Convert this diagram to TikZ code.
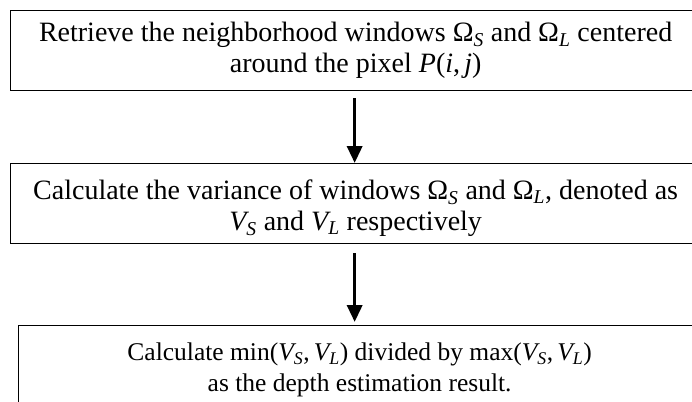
\documentclass[tikz,border=0pt]{standalone}
\usepackage{fontspec}
\setmainfont{Liberation Serif}
\usetikzlibrary{arrows.meta}
\newcommand\Om[1]{\mbox{Ω}_{\mathit{#1}}}
\newcommand\Vv[1]{\mathit{V}_{\mathit{#1}}}
\begin{document}
\begin{tikzpicture}[x=1pt,y=-1pt,
  stepbox/.style={draw, line width=1.3pt, anchor=north west, align=center,
    inner sep=0pt, font=\fontsize{28}{31}\selectfont},
  flow/.style={line width=3.5pt, -{Triangle[width=15pt,length=17pt]}}]
\useasboundingbox (0,0) rectangle (692,401);
\node[stepbox, minimum width=690pt, minimum height=80pt] (b1) at (10,10)
  {Retrieve the neighborhood windows $\Om{S}$ and $\Om{L}$ centered\\
   around the pixel $\mathit{P}\mbox{(}\mathit{i}\mbox{,}\,\mathit{j}\mbox{)}$};
\node[stepbox, minimum width=690pt, minimum height=80pt] (b2) at (10,163)
  {\rule{0pt}{29pt}Calculate the variance of windows $\Om{S}$ and $\Om{L}$, denoted as\\
   $\Vv{S}$ and $\Vv{L}$ respectively};
\node[stepbox, minimum width=682pt, minimum height=88pt,
  font=\fontsize{25.5}{31}\selectfont] (b3) at (18,325)
  {Calculate min$\mbox{(}\Vv{S}\mbox{,}\,\Vv{L}\mbox{)}$ divided by max$\mbox{(}\Vv{S}\mbox{,}\,\Vv{L}\mbox{)}$\\
   as the depth estimation result.};
\draw[flow, shorten <=7pt] ([xshift=-1pt]b1.south) -- ([xshift=-1pt]b2.north);
\draw[flow, shorten <=9pt, shorten >=3pt] ([xshift=-1pt]b2.south) -- ([xshift=-5pt]b3.north);
\end{tikzpicture}
\end{document}
